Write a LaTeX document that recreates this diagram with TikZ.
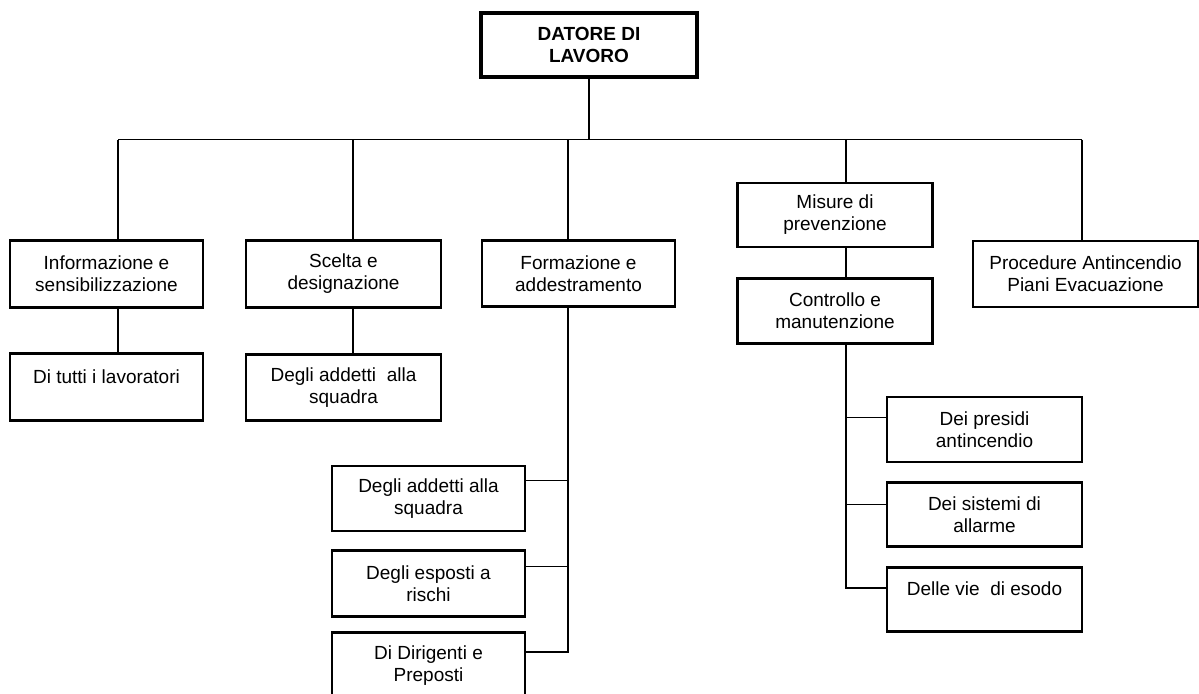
\documentclass[tikz,border=0pt]{standalone}
\usepackage{fontspec}
\setmainfont{Liberation Sans}
\usepackage{tikz}
\usetikzlibrary{positioning, calc}

\begin{document}
\begin{tikzpicture}[
    x=0.5pt, y=-0.5pt,
    orgbox/.style={draw, rectangle, line width=1.4pt, minimum width=96.5pt, minimum height=33pt, inner sep=0pt, align=center, font=\fontsize{9.5}{11}\selectfont},
    link/.style={line width=0.8pt}
]
\useasboundingbox (0,0) rectangle (1199,693);
\clip (0,0) rectangle (1199,693);

% Nodes
\node (datore) [orgbox, minimum width=108pt, minimum height=32pt, line width=1.6pt, font=\fontsize{9.5}{11}\selectfont\bfseries] at (589,45) {DATORE DI\\LAVORO};
\node (info) [orgbox, minimum height=33.5pt] at (106.5,274) {Informazione e\\sensibilizzazione};
\node (scelta) [orgbox, minimum width=97.5pt, minimum height=33.5pt] at (343.5,274) {Scelta e\\designazione};
\node (formaz) [orgbox, minimum height=33pt] at (578.5,273.5) {Formazione e\\addestramento};
\node (misure) [orgbox, minimum width=97.5pt, minimum height=32pt, line width=1.2pt] at (835,215) {Misure di\\prevenzione};
\node (controllo) [orgbox, minimum width=97.5pt, minimum height=32.5pt, line width=1.2pt, below=14.5pt of misure] {Controllo e\\manutenzione};
\node (proc) [orgbox, minimum width=112.5pt, minimum height=33pt, line width=1pt] at (1085.5,274) {Procedure Antincendio\\Piani Evacuazione};

\node (tutti) [orgbox, minimum height=33.5pt, below=21.75pt of info] {Di tutti i lavoratori\\~};
\node (squadra) [orgbox, minimum width=97.5pt, below=22pt of scelta] {Degli addetti\ \ alla\\squadra};

\node (fa1) [orgbox, minimum height=32.5pt] at (428.5,498.5) {Degli addetti alla\\squadra};
\node (fa2) [orgbox, below=8.5pt of fa1] {Degli esposti a\\rischi};
\node (fa3) [orgbox, minimum height=32.5pt, below=6.5pt of fa2] {Di Dirigenti e\\Preposti};

\node (cp1) [orgbox, minimum width=97.5pt, minimum height=32.5pt] at (984.5,429.5) {Dei presidi\\antincendio};
\node (cp2) [orgbox, minimum width=97.5pt, minimum height=32pt, below=9pt of cp1] {Dei sistemi di\\allarme};
\node (cp3) [orgbox, minimum width=97.5pt, minimum height=32pt, below=9pt of cp2] {Delle vie\ \ di esodo\\~};

% Bus drops
\coordinate (dInfo) at (118,139.5);
\coordinate (dScelta) at (353,139.5);
\coordinate (dForm) at (568,139.5);
\coordinate (dMis) at (846,139.5);
\coordinate (dProc) at (1082,139.5);

% Links
\draw[link] (datore) -- (datore |- dInfo);
\draw[link] (dInfo) -- (dProc);
\foreach \d/\n in {dInfo/info, dScelta/scelta, dForm/formaz, dMis/misure, dProc/proc}
    \draw[link] (\d) -- (\d |- \n.north);

\draw[link] (dInfo |- info.south) -- (dInfo |- tutti.north);
\draw[link] (dScelta |- scelta.south) -- (dScelta |- squadra.north);
\draw[link] (dMis |- misure.south) -- (dMis |- controllo.north);

% Formazione branch
\coordinate (fa1c) at ([yshift=-8pt]fa1.north east);
\coordinate (fa2c) at ([yshift=-8.5pt]fa2.north east);
\coordinate (fa3c) at ([yshift=-10.5pt]fa3.north east);
\draw[link] (dForm |- formaz.south) |- (fa3c);
\draw[link] (fa1c) -- (fa1c -| dForm);
\draw[link] (fa2c) -- (fa2c -| dForm);

% Controllo branch
\coordinate (cp1c) at ([yshift=-11pt]cp1.north west);
\coordinate (cp2c) at ([yshift=-11.5pt]cp2.north west);
\coordinate (cp3c) at ([yshift=-11pt]cp3.north west);
\draw[link] (dMis |- controllo.south) |- (cp3c);
\draw[link] (cp1c) -- (cp1c -| dMis);
\draw[link] (cp2c) -- (cp2c -| dMis);

\end{tikzpicture}
\end{document}
